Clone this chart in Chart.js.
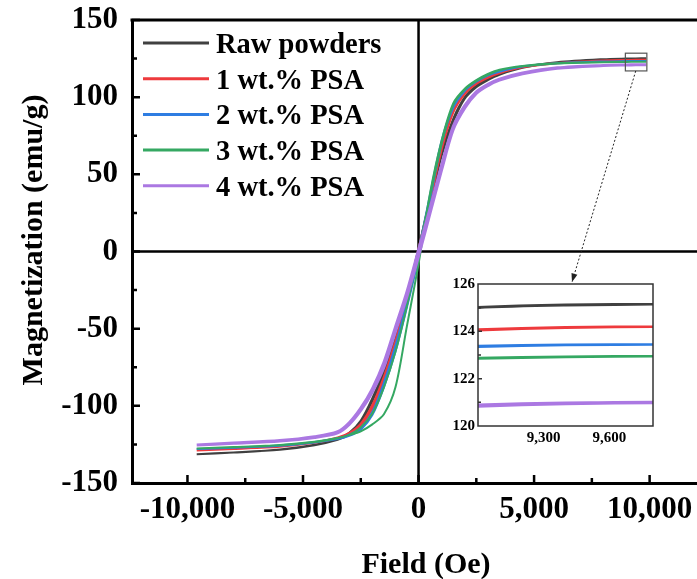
<!DOCTYPE html>
<html>
<head>
<meta charset="utf-8">
<script src="https://cdn.jsdelivr.net/npm/chart.js"></script>
<style>
  html, body { margin: 0; padding: 0; background: #fff; }
  #wrap { position: relative; width: 697px; height: 579px; }
  #main { position: absolute; left: 0; top: 0; }
  #inset { position: absolute; left: 436px; top: 274px; }
</style>
</head>
<body>
<div id="wrap">
  <canvas id="main" width="697" height="579"></canvas>
  <canvas id="inset" width="222" height="178"></canvas>
</div>
<script>
// field points (Oe), shared by every branch
const field = [-9600, -8000, -6000, -4500, -3500, -3000, -2500, -2000, -1500, -1000, -500, 0,
               500, 1000, 1500, 2000, 2500, 3000, 3500, 4500, 6000, 8000, 9000, 9400, 9850];

const labels = ['Raw powders', '1 wt.% PSA', '2 wt.% PSA', '3 wt.% PSA', '4 wt.% PSA'];
const colors = ['#404040', '#ee3a3d', '#2e7de2', '#35a862', '#ab78e2'];

// magnetization (emu/g), rising branch and falling branch, at the field points above
const rawUp    = [-131.3, -130.3, -128.5, -125.5, -122, -118.5, -111, -97, -80, -60, -33, -3, 30, 62, 84, 99, 106.5, 111, 114.5, 119, 122.4, 124.5, 125.0, 125.1, 125.15];
const rawDown  = [-131.3, -130.2, -128.3, -125.2, -121.5, -117.5, -109.5, -95, -77, -56, -29, 2, 34, 64, 86, 100, 107.5, 111.8, 115, 119.3, 122.6, 124.6, 125.02, 125.12, 125.15];
const psa1Up   = [-129, -128, -126.5, -124, -121, -118.5, -113, -102, -84, -62, -34, -3, 32, 66, 90, 102, 108.5, 112.5, 115.5, 119.3, 122, 123.7, 124.05, 124.15, 124.2];
const psa1Down = [-129, -127.9, -126.3, -123.7, -120.5, -117.5, -111.5, -99.5, -81, -58, -30, 2, 35, 68, 91.5, 103, 109.2, 113, 116, 119.5, 122.1, 123.75, 124.08, 124.17, 124.2];
const psa2Up   = [-128, -127.2, -125.8, -123.7, -121.5, -119.5, -115.5, -106, -88, -65, -36, -4, 34, 70, 93, 104, 110, 114, 116.5, 119.8, 121.9, 123.1, 123.35, 123.42, 123.45];
const psa2Down = [-128, -127.1, -125.6, -123.4, -121, -118.7, -114.2, -104, -85, -61, -32, 1, 37, 72, 94, 104.8, 110.5, 114.4, 116.8, 120, 122, 123.15, 123.38, 123.43, 123.45];
const psa3Up   = [-127.6, -126.8, -125.5, -123.5, -121, -119, -116.5, -112, -105.5, -88, -48, -8, 38, 72, 96, 105.5, 111, 115, 117.8, 120.2, 121.9, 122.7, 122.85, 122.92, 122.95];
const psa3Down = [-127.6, -126.7, -125.3, -123.2, -120.8, -118.8, -114, -105, -88, -65, -35, 0, 36, 70, 95, 105, 110.5, 114.5, 117.5, 120, 121.8, 122.65, 122.87, 122.93, 122.95];
const psa4Up   = [-125.4, -124.3, -122.8, -120.5, -117.5, -112, -103, -91, -75, -52, -29, -3, 25, 53, 79, 93, 102.5, 107.5, 111, 115.2, 118.8, 120.5, 120.85, 120.95, 121.0];
const psa4Down = [-125.4, -124.1, -122.5, -120, -116.8, -111, -101.5, -89, -72, -49, -26, 1, 28, 56, 81, 94.5, 103.5, 108.3, 111.7, 115.6, 119, 120.6, 120.88, 120.96, 121.0];

const ups = [rawUp, psa1Up, psa2Up, psa3Up, psa4Up];
const downs = [rawDown, psa1Down, psa2Down, psa3Down, psa4Down];

const xTicks = [-10000, -5000, 0, 5000, 10000];
const yTicks = [-150, -100, -50, 0, 50, 100, 150];
const insetXTicks = [9300, 9600];
const insetYTicks = [120, 122, 124, 126];

const serif = "'Liberation Serif', 'Times New Roman', serif";
Chart.defaults.font.family = serif;
Chart.defaults.color = '#000';

// loop: rising branch left to right, then falling branch back
function loopData(i) {
  const pts = field.map((h, k) => ({ x: h, y: ups[i][k] }));
  for (let k = field.length - 1; k >= 0; k--) pts.push({ x: field[k], y: downs[i][k] });
  return pts;
}

function makeDatasets(width) {
  return labels.map((name, i) => ({
    label: name,
    data: loopData(i),
    showLine: true,
    borderColor: colors[i],
    backgroundColor: colors[i],
    borderWidth: i === 4 ? width + 1 : width,
    pointRadius: 0,
    tension: 0.3,
    order: 4 - i
  }));
}

// no extra room for tick labels sticking out of the plot
function noPad(s) {
  s.paddingLeft = 0; s.paddingRight = 0; s.paddingTop = 0; s.paddingBottom = 0;
}

const mainDecor = {
  id: 'mainDecor',
  beforeDatasetsDraw(chart) {
    const { ctx, chartArea: a, scales: { x, y } } = chart;
    const x0 = x.getPixelForValue(0), y0 = y.getPixelForValue(0);
    ctx.save();
    ctx.strokeStyle = '#000';
    ctx.lineWidth = 2.5;
    ctx.beginPath();
    ctx.moveTo(x0, a.top); ctx.lineTo(x0, a.bottom);
    ctx.moveTo(a.left, y0); ctx.lineTo(a.right, y0);
    ctx.stroke();
    ctx.restore();
  },
  afterDraw(chart) {
    const { ctx, chartArea: a, scales: { x, y } } = chart;
    ctx.save();
    ctx.strokeStyle = '#000';
    // top frame line
    ctx.lineWidth = 3;
    ctx.beginPath();
    ctx.moveTo(a.left - 1.5, a.top); ctx.lineTo(a.right, a.top);
    ctx.stroke();
    // inward tick marks
    ctx.lineWidth = 2.5;
    ctx.beginPath();
    for (let v = -150; v <= 150; v += 25) {
      const p = y.getPixelForValue(v), len = v % 50 === 0 ? 8 : 5;
      ctx.moveTo(a.left, p); ctx.lineTo(a.left + len, p);
    }
    for (let v = -10000; v <= 10000; v += 2500) {
      const p = x.getPixelForValue(v), len = v % 5000 === 0 ? 8 : 5;
      ctx.moveTo(p, a.bottom); ctx.lineTo(p, a.bottom - len);
    }
    ctx.stroke();

    // zoom box and arrow towards the inset
    const bx1 = x.getPixelForValue(8950), bx2 = x.getPixelForValue(9880);
    const by1 = y.getPixelForValue(128.5), by2 = y.getPixelForValue(117);
    ctx.strokeStyle = '#555';
    ctx.lineWidth = 1.2;
    ctx.strokeRect(bx1, by1, bx2 - bx1, by2 - by1);
    const sx = x.getPixelForValue(9400), sy = by2;
    const ex = 572, ey = 282;
    ctx.strokeStyle = '#222';
    ctx.lineWidth = 1;
    ctx.setLineDash([2, 2]);
    ctx.beginPath(); ctx.moveTo(sx, sy); ctx.lineTo(ex, ey); ctx.stroke();
    ctx.setLineDash([]);
    const ang = Math.atan2(ey - sy, ex - sx);
    ctx.fillStyle = '#222';
    ctx.beginPath();
    ctx.moveTo(ex, ey);
    ctx.lineTo(ex - 9 * Math.cos(ang - 0.35), ey - 9 * Math.sin(ang - 0.35));
    ctx.lineTo(ex - 9 * Math.cos(ang + 0.35), ey - 9 * Math.sin(ang + 0.35));
    ctx.closePath(); ctx.fill();

    // legend
    ctx.font = 'bold 28.5px ' + serif;
    ctx.textBaseline = 'alphabetic';
    ctx.textAlign = 'left';
    labels.forEach((name, i) => {
      const ly = 43 + i * 35.7;
      ctx.strokeStyle = colors[i];
      ctx.lineWidth = 3;
      ctx.beginPath(); ctx.moveTo(143, ly); ctx.lineTo(209, ly); ctx.stroke();
      ctx.fillStyle = '#000';
      ctx.fillText(name, 216, ly + 10);
    });

    // axis titles
    ctx.font = 'bold 30px ' + serif;
    ctx.textAlign = 'center';
    ctx.fillText('Field (Oe)', 426, 573);
    ctx.translate(42, 240);
    ctx.rotate(-Math.PI / 2);
    ctx.fillText('Magnetization (emu/g)', 0, 0);
    ctx.restore();
  }
};

new Chart(document.getElementById('main'), {
  type: 'scatter',
  data: { datasets: makeDatasets(2) },
  options: {
    responsive: false,
    animation: false,
    devicePixelRatio: 1,
    layout: { padding: { top: 20, right: 0, left: 0, bottom: 0 }, autoPadding: false },
    plugins: { legend: { display: false }, tooltip: { enabled: false } },
    scales: {
      x: {
        type: 'linear',
        min: -12400,
        max: 12050,
        afterFit(s) { s.height = 96; noPad(s); },
        afterBuildTicks(s) { s.ticks = xTicks.map(v => ({ value: v })); },
        grid: { display: false, drawTicks: false },
        border: { display: true, color: '#000', width: 3 },
        ticks: {
          font: { size: 31, weight: 'bold' },
          padding: 8,
          maxRotation: 0,
          callback: v => v.toLocaleString('en-US')
        }
      },
      y: {
        type: 'linear',
        min: -150,
        max: 150,
        afterFit(s) { s.width = 132; noPad(s); },
        afterBuildTicks(s) { s.ticks = yTicks.map(v => ({ value: v })); },
        grid: { display: false, drawTicks: false },
        border: { display: true, color: '#000', width: 3 },
        ticks: { font: { size: 31, weight: 'bold' }, padding: 14 }
      }
    }
  },
  plugins: [mainDecor]
});

const insetDecor = {
  id: 'insetDecor',
  afterDraw(chart) {
    const { ctx, chartArea: a, scales: { y } } = chart;
    ctx.save();
    ctx.strokeStyle = '#333';
    ctx.lineWidth = 1.5;
    ctx.strokeRect(a.left, a.top, a.right - a.left, a.bottom - a.top);
    ctx.beginPath();
    for (let v = 121; v <= 125; v++) {
      const p = y.getPixelForValue(v), len = v % 2 === 0 ? 4 : 3;
      ctx.moveTo(a.left, p); ctx.lineTo(a.left + len, p);
    }
    ctx.stroke();
    ctx.restore();
  }
};

new Chart(document.getElementById('inset'), {
  type: 'scatter',
  data: { datasets: makeDatasets(2.5) },
  options: {
    responsive: false,
    animation: false,
    devicePixelRatio: 1,
    layout: { padding: { top: 10, right: 5, left: 0, bottom: 0 }, autoPadding: false },
    plugins: { legend: { display: false }, tooltip: { enabled: false } },
    scales: {
      x: {
        type: 'linear',
        min: 9000,
        max: 9800,
        afterFit(s) { s.height = 26; noPad(s); },
        afterBuildTicks(s) { s.ticks = insetXTicks.map(v => ({ value: v })); },
        grid: { display: false, drawTicks: false },
        border: { display: false },
        ticks: {
          font: { size: 15, weight: 'bold' },
          padding: 3,
          maxRotation: 0,
          callback: v => v.toLocaleString('en-US')
        }
      },
      y: {
        type: 'linear',
        min: 120,
        max: 126,
        afterFit(s) { s.width = 42; noPad(s); },
        afterBuildTicks(s) { s.ticks = insetYTicks.map(v => ({ value: v })); },
        grid: { display: false, drawTicks: false },
        border: { display: false },
        ticks: { font: { size: 15, weight: 'bold' }, padding: 3 }
      }
    }
  },
  plugins: [insetDecor]
});
</script>
</body>
</html>
